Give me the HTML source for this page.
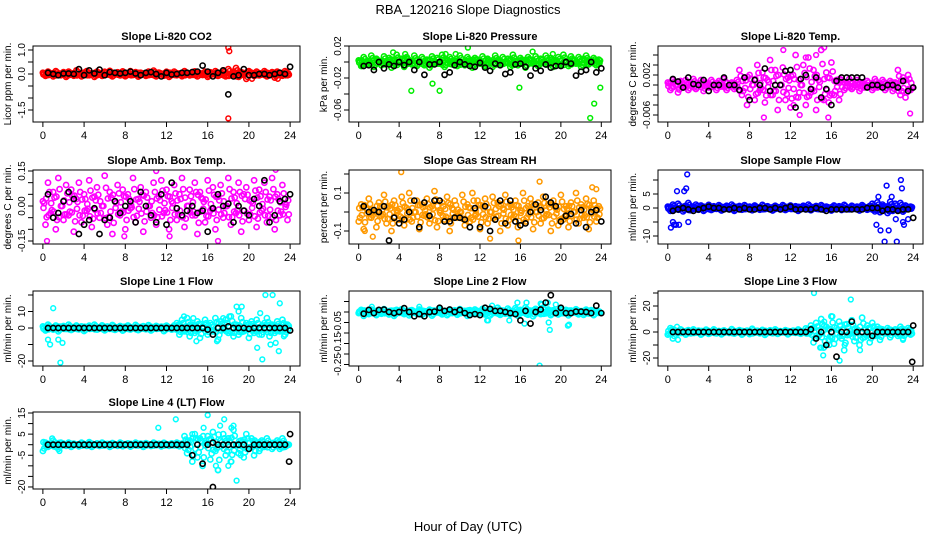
<!DOCTYPE html>
<html><head><meta charset="utf-8"><style>
html,body{margin:0;padding:0;background:#fff}
svg{display:block;font-family:"Liberation Sans",sans-serif}
</style></head><body>
<svg id="chart" width="936" height="540" viewBox="0 0 936 540">
<text x="468" y="14" text-anchor="middle" font-size="13">RBA_120216  Slope Diagnostics</text>
<text x="468" y="531" text-anchor="middle" font-size="13">Hour of Day (UTC)</text>
</svg>
<script>
// ---- data ----
const xTicks=[0,4,8,12,16,20,24];
const co2Main=[0.05,-0.08,0.1,0.02,-0.1,0.12,0.0,-0.05,0.08,-0.12,0.1,0.03,-0.07,0.15,0.0,-0.1,0.06,0.12,-0.05,0.02,-0.12,0.1,0.04,-0.08,0.09,-0.02,0.13,-0.1,0.0,0.07,-0.06,0.11,-0.09,0.03,0.12,-0.04,0.08,-0.11,0.05,0.0,-0.08,0.1,-0.03,0.14,-0.1,0.06,0.0,-0.07,0.09,-0.12,0.04,0.1,-0.05,0.02,-0.09,0.12,0.0,-0.06,0.08,0.11,-0.1,0.03,-0.04,0.1,-0.12,0.07,0.0,0.12,-0.08,0.05,0.15,-0.1,0.2,-0.05,0.1,0.25,-0.12,0.08,0.0,-0.2,0.12,0.05,-0.08,0.1,-0.06,0.03,0.12,-0.1,0.0,0.08,-0.15,0.1,0.05,-0.07,0.12,-0.05];
const co2OutX=[18,18.1,18.0,20.3,22.8];
const co2OutY=[1.1,0.95,-1.85,-0.2,-0.2];
const co2Hourly=[0.05,0.0,-0.05,0.02,0.02,0.0,0.2,-0.05,0.15,0.02,0.18,-0.05,0.08,0.05,0.02,0.05,0.1,0.02,-0.05,0.05,0.08,0.0,-0.1,0.05,-0.02,0.0,0.05,0.05,0.08,0.1,0.35,0.1,-0.1,0.05,0.15,-0.85,-0.1,-0.05,0.2,-0.05,-0.05,0.0,0.0,-0.05,0.0,0.05,0.0,0.3];
const co2Ticks=[1.0,0.5,0,-0.5,-1.0,-1.5];
const co2Labels=["1.0","","0.0","","","-1.5"];

const presMain=[0.002,-0.005,0.006,0.0,-0.003,0.008,-0.006,0.004,0.001,-0.004,0.007,-0.002,0.005,-0.007,0.003,0.009,-0.001,0.004,-0.006,0.006,0.002,-0.003,0.008,-0.005,0.001,0.006,-0.004,0.003,-0.007,0.007,0.0,0.005,-0.002,0.009,-0.006,0.003,0.006,-0.003,0.002,-0.005,0.008,0.0,-0.004,0.006,0.002,-0.007,0.005,0.003,-0.002,0.007,-0.005,0.004,0.001,-0.006,0.008,0.002,-0.003,0.006,-0.001,0.004,-0.006,0.009,0.001,-0.004,0.005,0.002,-0.007,0.006,0.003,-0.002,0.007,-0.005,0.004,0.0,0.008,-0.003,0.005,-0.006,0.002,0.006,-0.004,0.009,0.001,-0.005,0.007,0.003,-0.002,0.006,-0.006,0.004,0.008,-0.003,0.002,0.005,-0.004,0.003];
const presOutX=[3.4,4.6,5.2,7.3,8.0,8.6,9.6,10.8,15.9,17.2,19.2,22.9,23.3,23.9,0.3];
const presOutY=[0.012,0.01,-0.036,-0.027,-0.036,0.01,0.01,0.018,-0.032,0.013,0.01,-0.07,-0.052,-0.032,-0.005];
const presHourly=[-0.005,-0.004,-0.01,0.0,-0.008,-0.003,-0.005,0.0,-0.004,0.0,-0.01,0.0,-0.016,-0.003,-0.003,0.0,-0.016,-0.013,-0.004,0.0,-0.003,-0.005,-0.006,-0.001,-0.007,-0.011,-0.002,-0.004,-0.015,-0.013,-0.003,-0.002,-0.006,-0.017,-0.008,-0.011,-0.003,-0.007,-0.005,-0.005,0.0,-0.002,-0.017,-0.012,-0.01,0.0,-0.013,-0.008];
const presTicks=[0.02,0,-0.02,-0.04,-0.06];
const presLabels=["0.02","","-0.02","","-0.06"];

const tempMain=[0.0005,-0.001,0.001,0.0,-0.0015,0.0008,-0.0005,0.001,-0.001,0.0003,0.0012,-0.0008,0.0,0.001,-0.0012,0.0005,-0.0005,0.001,0.0,-0.001,0.0008,-0.0003,0.0012,-0.001,0.0,0.0005,-0.0008,0.001,0.003,-0.002,0.0015,-0.004,0.002,0.0,-0.003,0.004,-0.001,0.0025,-0.0035,0.001,0.005,-0.002,0.003,-0.005,0.0,0.0035,-0.003,0.0015,-0.0045,0.002,0.006,-0.0025,0.0,0.004,-0.004,0.0055,-0.0015,0.003,-0.005,0.001,0.007,-0.003,0.0025,-0.0035,0.0045,-0.002,0.001,-0.003,0.001,-0.001,0.0005,0.0012,-0.0008,0.0,0.001,-0.0012,0.0005,-0.0005,0.0008,0.0,-0.001,0.0012,-0.0005,0.0003,0.001,-0.001,0.0,0.0008,-0.0012,0.0005,0.003,-0.002,0.0015,-0.0025,0.002,-0.001];
const tempOutX=[9.4,12.9,15.7,15.3,11.3,12.3,23.7,14.5,13.5];
const tempOutY=[-0.0065,-0.006,-0.0065,0.0075,0.007,-0.004,-0.0057,0.006,0.0055];
const tempHourly=[0.0012,0.0007,-0.0005,0.0015,0.0002,0.0,0.001,-0.0012,0.0,0.0,0.0015,0.0,0.0,-0.001,0.0015,-0.003,0.001,0.0,0.0033,-0.0012,0.0,0.0,0.0028,0.003,-0.0045,0.0012,0.002,-0.0008,0.0015,-0.0025,-0.0008,-0.004,0.0008,0.0015,0.0015,0.0015,0.0015,0.0015,-0.0005,0.0,0.0,-0.0005,0.0,0.0,-0.0005,0.0008,-0.0012,-0.0005];
const tempTicks=[0.006,0.004,0.002,0,-0.002,-0.004,-0.006];
const tempLabels=["","","0.002","","","","-0.006"];

const ambMain=[0.02,-0.08,0.1,-0.03,0.06,-0.1,0.12,0.0,-0.06,0.09,-0.04,0.07,-0.11,0.03,0.1,-0.07,0.05,-0.02,0.11,-0.09,0.04,0.08,-0.05,0.0,0.13,-0.08,0.06,-0.12,0.02,0.09,-0.04,0.07,-0.1,0.05,-0.01,0.12,-0.07,0.03,0.08,-0.11,0.06,0.0,-0.05,0.1,-0.08,0.04,0.11,-0.03,0.07,-0.1,0.02,0.09,-0.06,0.05,0.12,-0.09,0.0,0.07,-0.04,0.1,-0.12,0.06,0.03,-0.07,0.11,-0.02,0.08,-0.1,0.04,0.09,-0.05,0.0,0.12,-0.08,0.06,-0.03,0.1,-0.11,0.05,0.08,-0.06,0.02,0.11,-0.09,0.07,-0.02,0.1,-0.07,0.04,0.12,-0.1,0.05,-0.04,0.09,0.01,-0.06];
const ambOutX=[0.4,12.3,17.0,11.0,22.6,7.9];
const ambOutY=[-0.15,-0.13,-0.15,0.15,0.155,-0.13];
const ambHourly=[0.05,-0.05,-0.03,0.02,0.06,0.03,-0.12,-0.08,-0.06,-0.01,-0.12,-0.06,-0.05,0.02,-0.03,0.0,0.02,-0.07,0.06,0.0,-0.04,-0.07,0.05,-0.08,0.1,-0.01,-0.04,-0.02,0.0,-0.03,-0.02,-0.11,-0.01,0.05,0.0,0.01,-0.07,0.0,-0.02,-0.04,0.03,0.0,0.11,-0.07,-0.04,0.02,0.03,0.05];
const ambTicks=[0.15,0.1,0.05,0,-0.05,-0.1,-0.15];
const ambLabels=["0.15","","","0.00","","","-0.15"];

const rhMain=[-0.05,0.04,-0.09,0.02,0.07,-0.03,0.0,-0.08,0.05,-0.02,0.09,-0.06,0.03,-0.1,0.06,0.01,-0.04,0.08,-0.07,0.02,0.1,-0.05,0.0,0.06,-0.09,0.04,-0.02,0.07,-0.06,0.03,0.11,-0.08,0.01,0.05,-0.04,0.08,-0.1,0.02,0.06,-0.03,0.0,0.09,-0.07,0.04,-0.05,0.1,-0.02,0.06,-0.09,0.03,0.07,-0.06,0.0,0.08,-0.04,0.05,-0.1,0.02,0.09,-0.07,0.04,-0.03,0.06,-0.08,0.01,0.1,-0.05,0.03,0.07,-0.09,0.0,0.05,-0.06,0.08,-0.02,0.04,-0.1,0.06,0.02,-0.07,0.09,-0.04,0.03,-0.08,0.05,0.0,0.1,-0.06,0.04,-0.03,0.07,-0.09,0.02,0.06,-0.05,0.03];
const rhOutX=[4.2,17.9,23.1,23.5,15.8,13.0,1.4,0.6];
const rhOutY=[0.21,0.16,0.13,0.12,-0.15,-0.14,-0.13,-0.1];
const rhHourly=[0.03,0.0,0.01,0.0,0.03,-0.15,-0.03,-0.06,-0.04,0.0,0.06,-0.08,0.05,-0.02,0.06,0.06,-0.05,-0.05,-0.03,-0.03,-0.04,-0.08,0.02,-0.08,0.03,-0.1,-0.04,0.06,-0.06,0.06,-0.05,-0.07,-0.06,0.0,0.04,0.01,0.08,0.05,0.03,-0.05,-0.02,-0.01,-0.06,0.01,-0.08,0.0,0.01,-0.05];
const rhTicks=[0.2,0.1,0,-0.1];
const rhLabels=["","0.1","","-0.1"];

const flowMain=[0.5,-1,1.2,-0.5,1.5,0,-1.2,0.8,1.8,-0.8,0.5,1.2,-0.6,0.9,-1,0.4,1.1,-0.7,0.6,-0.3,1.0,-0.9,0.3,0.8,-0.5,1.2,-1.0,0.4,0.7,-0.6,1.0,-0.3,0.5,-0.8,0.9,0.2,-0.6,1.1,-0.4,0.6,0.0,-0.9,0.8,0.3,-0.5,1.0,-0.7,0.4,0.9,-0.3,0.6,-1.0,0.2,0.8,-0.5,1.2,-0.8,0.3,0.7,-0.4,1.0,-0.6,0.5,0.1,-0.9,0.9,-0.2,0.6,-0.7,1.1,0.0,-0.5,0.8,-0.3,0.5,-0.9,1.0,0.2,-0.6,0.7,1.5,-1.2,2.0,-1.5,1.2,0.5,-1.8,2.2,-1.0,1.5,-0.6,1.8,-1.3,0.9,-0.4,0.5];
const flowOutX=[0.5,0.6,0.8,1.1,1.6,1.8,0.9,1.9,2.0,20.4,20.6,20.8,21.2,21.4,21.6,21.9,22.3,22.4,22.8,22.9,23.0,23.1,23.5,0.3];
const flowOutY=[-5,-6,-6,-6,6,7,6,12,-5,-6,4,-8,-12,8,-8,4,-4,-12,10,7,-5,-6,-4,-7];
const flowHourly=[-1,-0.5,0,-0.5,-1,-0.5,0,0.5,0,0,-0.5,-0.5,0,-0.5,0,-0.5,-0.5,0,0,-0.5,0,-0.5,0,0.5,-0.5,-0.5,-0.5,-0.5,0,-0.5,-1,-0.5,-0.5,-0.5,-0.5,-0.5,-0.5,-0.5,0,0,0,-1,-0.5,-0.5,-1,-0.5,-0.5,-3.5];
const flowTicks=[10,5,0,-5,-10];
const flowLabels=["","5","0","","-10"];

const l1Main=[1,-1.5,2,0.5,-1,1.5,-2,0.8,1.2,-0.6,2,-1.2,0.5,1.5,-0.8,1,-1.8,0.6,1.4,-0.4,2,-1,0.3,1.6,-1.4,0.9,-0.5,1.8,-1.1,0.4,1.2,-1.6,0.7,1.5,-0.9,0.2,1.9,-1.3,0.6,1.1,-0.7,1.7,-1.5,0.5,1.3,-0.3,0.8,-1.9,1.4,0.1,-1.0,1.6,3,-4,5,-2,6,-5,2,-3,4,-6,1,5,-4,3,-2,6,-7,4,-1,5,-3,7,-5,2,-4,6,-2,3,-6,4,-3,5,-1,-4,3,6,-5,2,-3,4,-2,5,-4,2];
const l1OutX=[1.0,0.5,0.7,1.5,1.7,1.9,13.7,14.6,14.9,16.9,17.5,18.1,18.8,19.0,19.3,20.8,21.1,21.3,21.6,22.1,22.6,22.3,22.9,23.0,21.0,23.4];
const l1OutY=[12,-7,-10,-7,-21,-9,7,6,-8,-8,6,7,13,10,13,-12,9,-19,20,-10,-9,20,-14,15,-4,-5];
const l1Hourly=[0,0,0,0,0,0,0,0,0,0,0,0,0,0,0,0,0,0,0,0,0,0,0,0,0,0,0,0,0,0,0,-1,-4,0,0,1,0,0,0,-0.5,0,0,0,0,0,0,0,-1.5];
const l1Ticks=[20,10,0,-10,-20];
const l1Labels=["","10","0","","-20"];

const l2Main=[-0.005,0.01,-0.018,0.005,-0.01,0.012,-0.002,-0.015,0.008,-0.008,0.014,0.0,-0.012,0.006,-0.018,0.01,-0.004,0.013,-0.01,0.003,-0.016,0.009,0.0,-0.008,0.012,-0.014,0.004,-0.006,0.011,-0.017,0.007,-0.002,0.013,-0.011,0.002,-0.015,0.01,-0.005,0.008,-0.013,0.014,-0.003,0.005,-0.018,0.009,-0.007,0.012,-0.01,0.001,0.015,-0.012,0.006,-0.016,0.011,-0.004,0.02,-0.014,0.007,-0.008,0.016,-0.011,0.003,0.018,-0.017,0.01,-0.002,0.022,-0.013,0.006,-0.02,0.015,0.004,-0.01,0.02,-0.006,0.012,-0.015,0.008,0.0,-0.012,0.014,-0.005,0.01,-0.016,0.007,-0.003,0.013,-0.011,0.004,-0.014,0.011,-0.007,0.009,-0.015,0.006,-0.004];
const l2OutX=[1.3,6.0,13.2,12.7,14.9,15.7,16.4,16.6,17.9,18.0,18.1,18.7,18.8,19.5,20.7,20.8,12.8,18.9];
const l2OutY=[0.025,0.025,0.03,-0.04,-0.04,0.045,-0.055,0.045,-0.255,0.04,0.035,0.045,-0.05,0.035,-0.065,-0.06,-0.04,-0.085];
const l2Hourly=[-0.008,0.01,-0.005,0.01,0.012,0.0,-0.005,0.0,0.018,0.0,-0.02,-0.01,-0.02,0.0,0.002,0.02,0.005,0.012,0.0,0.01,-0.005,-0.015,-0.01,-0.015,0.02,0.015,0.005,0.005,0.0,-0.005,-0.01,-0.04,0.005,-0.055,0.0,0.012,0.045,0.08,-0.005,0.02,-0.005,-0.005,0.002,0.002,0.0,-0.005,0.03,-0.005];
const l2Ticks=[0.05,0,-0.05,-0.1,-0.15,-0.2,-0.25];
const l2Labels=["","","-0.05","","-0.15","","-0.25"];

const l3Main=[-2,3,-5,1,-1,2,0,-2,1.5,-1,2,-0.5,1,-2,0.5,1.8,-1.5,0.3,2,-1,0.8,-1.8,1.2,0,-0.8,2.2,-1.2,0.6,1.4,-2,0.2,1,-1.6,2.5,-0.4,0.9,-1.1,1.6,-2.2,0.4,1.3,-0.9,2,-1.4,0.7,-0.2,1.5,-1.8,0.3,1.1,-0.6,1.9,-1.3,0.5,2.8,-1.0,5,-8,7,-3,10,-12,4,-6,12,-9,3,8,-5,-14,6,-2,9,-7,2,-10,11,-4,5,-8,7,-3,4,-6,2,-1,3,-4,1,2,-3,4,-5,1,3,-2];
const l3OutX=[0.9,1.0,14.3,14.9,15.2,15.8,16.8,17.3,17.9,18.8,15.3,16.1,15.0,23.0];
const l3OutY=[4,-6,30,-12,-18,-10,-22,-10,25,-14,8,12,-12,-6];
const l3Hourly=[0,0,0,0,0,0,0,0,0,0,0,0,0,0,0,0,0,0,0,0,0,0,0,0,0,0,0,2,-5,0,-10,0,-19,0,0,8,0,0,0,-3,0,0,0,0,0,0,0,5];
const l3BlackX=[23.9];
const l3BlackY=[-23];
const l3Ticks=[30,20,10,0,-10,-20];
const l3Labels=["","20","","0","","-20"];

const l4Main=[-3,1,-1,0.5,2,-1,-2,1,0.5,-0.5,1,-1,0.5,0,-0.8,1,0.3,-0.5,1.2,-1,0,0.6,-0.6,1,-0.3,0.4,-1,0.8,0,-0.5,1,-0.7,0.3,0.6,-0.9,0.2,1,-0.4,0.5,-1,0.7,0,-0.6,1,-0.2,0.4,-0.8,0.9,0.1,-0.5,0.6,-0.3,1,-0.7,0.5,4,-4,2,-8,5,-6,3,-10,1,4,-7,6,-3,-12,2,5,-5,3,-8,7,0,-4,2,-6,5,-2,3,-5,1,-3,2,-1,3,0,-2,1,2,-2,3,-1,0];
const l4OutX=[0.9,1.6,11.2,12.9,14.5,15.6,16.0,17.2,17.6,18.3,18.5,18.8,18.0,18.3,17.0,16.8,19.2];
const l4OutY=[3,-3,8,12,5,8,14,9,12,8,9,-17,-10,-8,-12,-10,-5];
const l4Hourly=[0,0,0,0,0,0,0,0,0,0,0,0,0,0,0,0,0,0,0,0,0,0,0,0,0,0,0,0,-5,0,-9,0,1,0,0,0,0,0,0,-2,0,0,0,0,0,0,0,5];
const l4BlackX=[23.9,16.5];
const l4BlackY=[-8,-20];
const l4Ticks=[15,10,5,0,-5,-10,-15,-20];
const l4Labels=["15","","5","","-5","","","-20"];

// ---- layout ----
const NS="http://www.w3.org/2000/svg";
const svg=document.getElementById('chart');
function mk(tag,attrs,parent){const e=document.createElementNS(NS,tag);for(const k in attrs)e.setAttribute(k,attrs[k]);(parent||svg).appendChild(e);return e;}

function panel(p){
  const g=mk('g',{});
  
  
  const L=p.box[0],R=p.box[1],T=p.box[2],B=p.box[3];
  const x0=L+(R-L)*0.037, x1=R-(R-L)*0.037;
  const xs=v=>x0+(x1-x0)*v/24;
  const ys=v=>p.ya[1]+(v-p.ya[0])*(p.ya[3]-p.ya[1])/(p.ya[2]-p.ya[0]);
  const t=mk('text',{x:(L+R)/2,y:T-6,'text-anchor':'middle','font-size':11,'font-weight':'bold'},g);
  t.textContent=p.title;
  
  
  const yt=mk('text',{transform:`translate(${L-22},${(T+B)/2}) rotate(-90)`,'text-anchor':'middle','font-size':10},g);
  yt.textContent=p.ylab;
  
  
  const clip='c'+p.name;
  const cp=mk('clipPath',{id:clip},g);mk('rect',{x:L,y:T,width:R-L,height:B-T},cp);
  const pts=mk('g',{'clip-path':`url(#${clip})`,fill:'none'},g);
  function pt(x,y,c,r,w){
    const e=mk('circle',{cx:xs(x).toFixed(1),cy:ys(y).toFixed(1),r:r,stroke:c,'stroke-width':w},pts);
    
    
  }
  p.main.forEach((v,i)=>{pt(i*0.25,v,p.col,2.6,1.6);pt(i*0.25+0.125,v*0.6,p.col,2.6,1.6);pt(i*0.25+0.06,-v*0.4,p.col,2.6,1.6);});
  p.outX.forEach((x,i)=>pt(x,p.outY[i],p.col,2.4,1.5));
  p.hourly.forEach((v,i)=>pt(0.5*(i+1),v,'#000',2.6,1.6));
  (p.bx||[]).forEach((x,i)=>pt(x,p.by[i],'#000',2.6,1.6));
  mk('rect',{x:L,y:T,width:R-L,height:B-T,fill:'none',stroke:'#000','stroke-width':1},g);
  mk('line',{x1:xs(0),y1:B,x2:xs(24),y2:B,stroke:'#000'},g);
  xTicks.forEach(v=>{
    mk('line',{x1:xs(v),y1:B,x2:xs(v),y2:B+5,stroke:'#000'},g);
    const tl=mk('text',{x:xs(v),y:B+17,'text-anchor':'middle','font-size':11},g);tl.textContent=v;
    
    
  });
  mk('line',{x1:L,y1:ys(p.ticks[0]),x2:L,y2:ys(p.ticks[p.ticks.length-1]),stroke:'#000'},g);
  p.ticks.forEach((v,i)=>{
    mk('line',{x1:L-5,y1:ys(v),x2:L,y2:ys(v),stroke:'#000'},g);
    if(p.labels[i]){
      const tl=mk('text',{transform:`translate(${L-8},${ys(v)}) rotate(-90)`,'text-anchor':'middle','font-size':10},g);
      tl.textContent=p.labels[i];
      
      
    }
  });
}
const C1=[33,300],C2=[349,611],C3=[658,923];
const R1=[46,122],R2=[170,244],R3=[291,366],R4=[412,489];
panel({name:'panel-co2',title:'Slope Li-820 CO2',ylab:'Licor ppm per min.',box:[...C1,...R1],ya:[0,74,1,50],col:'#ff0000',main:co2Main,outX:co2OutX,outY:co2OutY,hourly:co2Hourly,ticks:co2Ticks,labels:co2Labels});
panel({name:'panel-pressure',title:'Slope Li-820 Pressure',ylab:'kPa per min.',box:[...C2,...R1],ya:[0,62,0.02,46],col:'#00ee00',main:presMain,outX:presOutX,outY:presOutY,hourly:presHourly,ticks:presTicks,labels:presLabels});
panel({name:'panel-li820-temp',title:'Slope Li-820 Temp.',ylab:'degrees C per min.',box:[...C3,...R1],ya:[0,85,0.002,75],col:'#ff00ff',main:tempMain,outX:tempOutX,outY:tempOutY,hourly:tempHourly,ticks:tempTicks,labels:tempLabels});
panel({name:'panel-amb-box-temp',title:'Slope Amb. Box Temp.',ylab:'degrees C per min.',box:[...C1,...R2],ya:[0,206,0.15,171],col:'#ff00ff',main:ambMain,outX:ambOutX,outY:ambOutY,hourly:ambHourly,ticks:ambTicks,labels:ambLabels});
panel({name:'panel-gas-stream-rh',title:'Slope Gas Stream RH',ylab:'percent per min.',box:[...C2,...R2],ya:[0,212,0.1,193],col:'#ff9900',main:rhMain,outX:rhOutX,outY:rhOutY,hourly:rhHourly,ticks:rhTicks,labels:rhLabels});
panel({name:'panel-sample-flow',title:'Slope Sample Flow',ylab:'ml/min per min.',box:[...C3,...R2],ya:[0,208,5,194],col:'#0000ff',main:flowMain,outX:flowOutX,outY:flowOutY,hourly:flowHourly,ticks:flowTicks,labels:flowLabels});
panel({name:'panel-line1-flow',title:'Slope Line 1 Flow',ylab:'ml/min per min.',box:[...C1,...R3],ya:[0,328,10,311.5],col:'#00ffff',main:l1Main,outX:l1OutX,outY:l1OutY,hourly:l1Hourly,ticks:l1Ticks,labels:l1Labels});
panel({name:'panel-line2-flow',title:'Slope Line 2 Flow',ylab:'ml/min per min.',box:[...C2,...R3],ya:[0,312,-0.05,322.5],col:'#00ffff',main:l2Main,outX:l2OutX,outY:l2OutY,hourly:l2Hourly,ticks:l2Ticks,labels:l2Labels});
panel({name:'panel-line3-flow',title:'Slope Line 3 Flow',ylab:'ml/min per min.',box:[...C3,...R3],ya:[0,332,20,306],col:'#00ffff',main:l3Main,outX:l3OutX,outY:l3OutY,hourly:l3Hourly,bx:l3BlackX,by:l3BlackY,ticks:l3Ticks,labels:l3Labels});
panel({name:'panel-line4-flow',title:'Slope Line 4 (LT) Flow',ylab:'ml/min per min.',box:[...C1,...R4],ya:[0,444.7,15,413],col:'#00ffff',main:l4Main,outX:l4OutX,outY:l4OutY,hourly:l4Hourly,bx:l4BlackX,by:l4BlackY,ticks:l4Ticks,labels:l4Labels});
</script>
</body></html>
